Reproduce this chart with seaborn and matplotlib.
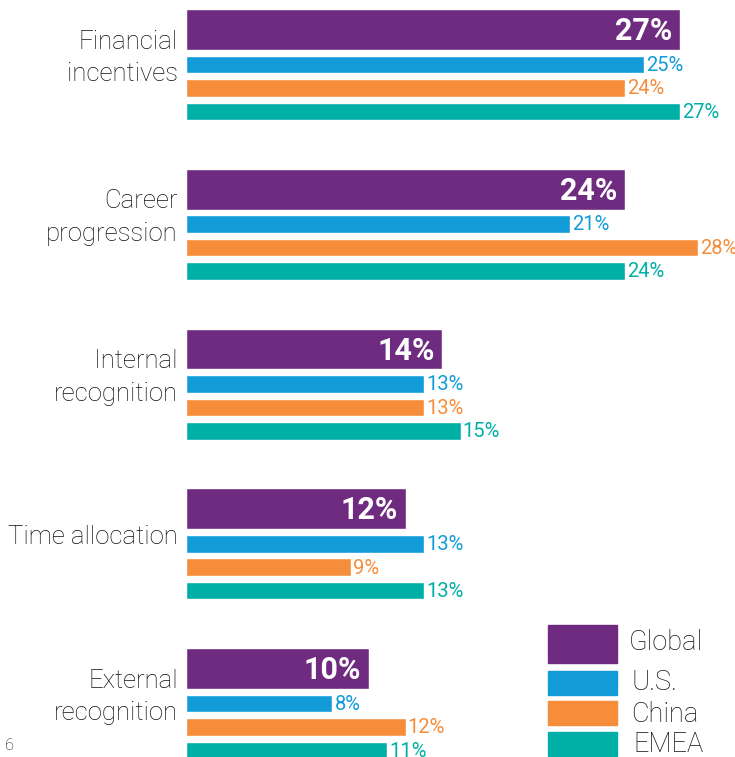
import numpy as np
import pandas as pd
import seaborn as sns
import matplotlib.pyplot as plt
from matplotlib.patches import Rectangle

# Data
categories = ["Financial\nincentives", "Career\nprogression", "Internal\nrecognition",
              "Time allocation", "External\nrecognition"]
series_names = ["Global", "U.S.", "China", "EMEA"]
global_vals = [27, 24, 14, 12, 10]
us_vals = [25, 21, 13, 13, 8]
china_vals = [24, 28, 13, 9, 12]
emea_vals = [27, 24, 15, 13, 11]

colors = {"Global": "#6e2b80", "U.S.": "#139bd8", "China": "#f68d3b", "EMEA": "#00afa6"}
offsets = {"Global": 0.128, "U.S.": 0.347, "China": 0.494, "EMEA": 0.641}   # within a group
widths = {"Global": 0.256, "U.S.": 0.11, "China": 0.11, "EMEA": 0.11}

sns.set_theme(style="white")
plt.rcParams['font.family'] = ['Roboto', 'DejaVu Sans']

fig = plt.figure(figsize=(7.35, 7.57), dpi=100)
ax = fig.add_axes([186 / 735, 0, 549 / 735, 1])

values = {"Global": global_vals, "U.S.": us_vals, "China": china_vals, "EMEA": emea_vals}
for name in series_names:
    df = pd.DataFrame({"value": values[name],
                       "pos": np.arange(len(categories)) + offsets[name]})
    sns.barplot(data=df, x="value", y="pos", orient="h", native_scale=True,
                width=widths[name], color=colors[name], saturation=1, ax=ax)

    for v, p in zip(df["value"], df["pos"]):
        if name == "Global":
            ax.text(v - 0.42, p + 0.01, f"{v}%", color="white", fontsize=22, fontweight="bold",
                    ha="right", va="center")
        else:
            ax.text(v + 0.12, p + 0.005, f"{v}%", color=colors[name], fontsize=14.5,
                    ha="left", va="center", clip_on=False)

# category labels
for i, cat in enumerate(categories):
    ax.text(-0.45, i + 0.306, cat, ha="right", va="center", fontsize=18.5, fontweight="light",
            color="#111111", linespacing=1.45, clip_on=False)

ax.set_xlim(0, 30)
ax.set_ylim(4.682, -0.0563)
ax.set_xlabel("")
ax.set_ylabel("")
ax.set_xticks([])
ax.set_yticks([])
sns.despine(ax=ax, left=True, bottom=True)

# legend drawn in figure pixels
W, H = 735, 757
legend_rows = [("Global", 625, 663, 642, 629), ("U.S.", 671, 695, 683, 632),
               ("China", 701, 725, 714, 631), ("EMEA", 732, 756, 744, 633)]
for name, top, bottom, ty, tx in legend_rows:
    fig.patches.append(Rectangle((548 / W, 1 - bottom / H), 69 / W, (bottom - top) / H,
                                 transform=fig.transFigure, color=colors[name]))
    fig.text(tx / W, 1 - ty / H, name, fontsize=19.5, fontweight="light",
             va="center", ha="left", color="#111111")

# page number
fig.text(5 / W, 1 - 745 / H, "6", fontsize=12, fontweight="light", va="center", ha="left",
         color="#111111")

fig.savefig("out.png", dpi=100)
